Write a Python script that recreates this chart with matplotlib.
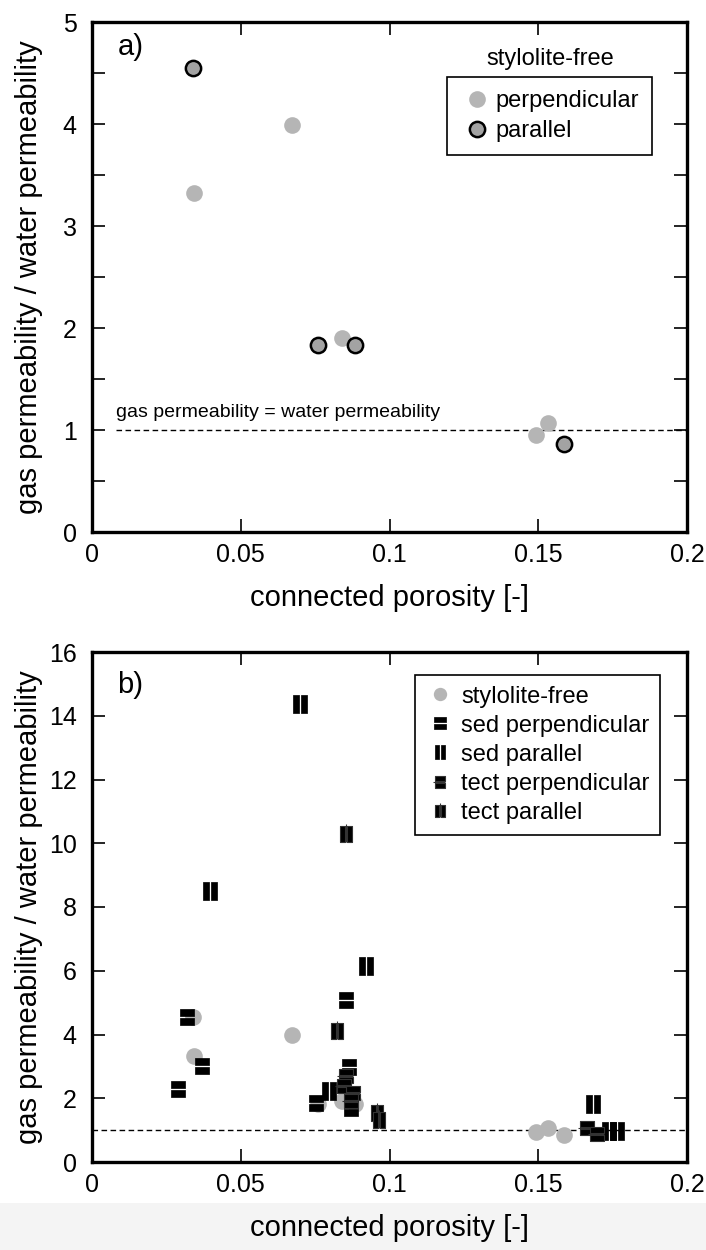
import matplotlib
matplotlib.use('Agg')
import matplotlib.pyplot as plt
from matplotlib.path import Path
from matplotlib.patches import Rectangle

plt.rcParams['font.family'] = ['Liberation Sans', 'DejaVu Sans']

# panel a: stylolite-free samples
free_perp_x = [0.0343, 0.0673, 0.0839, 0.1491, 0.1533]
free_perp_y = [3.32, 3.99, 1.90, 0.95, 1.07]
free_par_x = [0.0339, 0.0759, 0.0883, 0.1587]
free_par_y = [4.55, 1.83, 1.83, 0.86]

# panel b: stylolite-bearing samples
sed_perp_x = [0.0320, 0.0371, 0.0290, 0.0854, 0.0862, 0.0754, 0.0870]
sed_perp_y = [4.55, 3.00, 2.29, 5.08, 2.99, 1.86, 1.68]
tect_perp_x = [0.0855, 0.0848, 0.0878, 0.0872, 0.1662, 0.1696]
tect_perp_y = [2.71, 2.39, 2.17, 1.90, 1.07, 0.88]
sed_par_x = [0.0700, 0.0398, 0.0922, 0.0798, 0.1682, 0.1736, 0.1764]
sed_par_y = [14.38, 8.50, 6.15, 2.24, 1.81, 0.97, 0.97]
tect_par_x = [0.0853, 0.0825, 0.0957, 0.0965]
tect_par_y = [10.28, 4.12, 1.53, 1.32]


def rect(x0, y0, x1, y1):
    return Path([(x0, y0), (x1, y0), (x1, y1), (x0, y1), (x0, y0)],
                [Path.MOVETO, Path.LINETO, Path.LINETO, Path.LINETO, Path.CLOSEPOLY])


# two horizontal bars ("=") and two vertical bars ("II")
m_perp = Path.make_compound_path(rect(-0.45, 0.06, 0.45, 0.5), rect(-0.45, -0.5, 0.45, -0.06))
m_par = Path.make_compound_path(rect(-0.38, -0.5, -0.08, 0.5), rect(0.08, -0.5, 0.38, 0.5))
m_tperp = Path.make_compound_path(m_perp, Path([(-0.62, 0), (0.45, 0)], [Path.MOVETO, Path.LINETO]))
m_tpar = Path.make_compound_path(m_par, Path([(0, -0.5), (0, 0.62)], [Path.MOVETO, Path.LINETO]))

FS = 18
LFS = 21
gray = '#b5b5b5'

fig = plt.figure(figsize=(7.06, 12.5), dpi=100)
fig.patches.append(Rectangle((0, 0), 1, 0.038, transform=fig.transFigure,
                             facecolor='#f4f4f4', edgecolor='none', zorder=-1))

ax1 = fig.add_axes([0.1303, 0.5744, 0.843, 0.408])
ax2 = fig.add_axes([0.1303, 0.0704, 0.843, 0.408])

for ax in (ax1, ax2):
    for s in ax.spines.values():
        s.set_linewidth(2.4)
    ax.tick_params(direction='in', top=True, right=True, length=9.5, width=1.2,
                   labelsize=FS, pad=8)
    ax.tick_params(axis='y', pad=11)
    ax.tick_params(which='minor', direction='in', top=True, right=True, length=9.5, width=1.2)
    ax.set_xlim(0, 0.2)
    ax.set_xticks([0, 0.05, 0.1, 0.15, 0.2])
    ax.set_xticklabels(['0', '0.05', '0.1', '0.15', '0.2'])
    ax.set_xlabel('connected porosity [-]', fontsize=LFS, labelpad=12)
    ax.set_ylabel('gas permeability / water permeability', fontsize=LFS)
    ax.yaxis.set_label_coords(-0.083, 0.5)

# ---- panel a
ax1.set_ylim(0, 5)
ax1.set_yticks([0, 1, 2, 3, 4, 5])
ax1.set_yticks([0.5, 1.5, 2.5, 3.5, 4.5], minor=True)
ax1.plot([0.008, 0.2], [1, 1], 'k--', lw=1, dashes=(4, 2.5))
ax1.text(0.008, 1.13, 'gas permeability = water permeability', fontsize=14)
p1, = ax1.plot(free_perp_x, free_perp_y, 'o', ms=12, mfc=gray, mec='none',
               label='perpendicular')
p2, = ax1.plot(free_par_x, free_par_y, 'o', ms=11, mfc='#a3a3a3', mec='black',
               mew=1.8, label='parallel')
ax1.text(0.0085, 4.68, 'a)', fontsize=LFS)
ax1.text(0.77, 0.927, 'stylolite-free', transform=ax1.transAxes, ha='center',
         va='center', fontsize=17)
leg1 = ax1.legend(handles=[p1, p2], loc='upper right', bbox_to_anchor=(0.941, 0.892),
                  borderaxespad=0, fontsize=17, fancybox=False, edgecolor='black',
                  framealpha=1, handletextpad=0.1, handlelength=1.4, borderpad=0.55,
                  labelspacing=0.35)
leg1.get_frame().set_linewidth(1.2)

# ---- panel b
ax2.set_ylim(0, 16)
ax2.set_yticks(range(0, 17, 2))
ax2.axhline(1, color='black', ls='--', lw=1, dashes=(4, 2.5))
q0, = ax2.plot(free_perp_x + free_par_x, free_perp_y + free_par_y, 'o', ms=12,
               mfc=gray, mec='none', label='stylolite-free')
q1, = ax2.plot(sed_perp_x, sed_perp_y, ls='none', marker=m_perp, ms=11, mfc='black',
               mec='black', mew=0.5, label='sed perpendicular')
q2, = ax2.plot(sed_par_x, sed_par_y, ls='none', marker=m_par, ms=12.5, mfc='black',
               mec='black', mew=0.5, label='sed parallel')
q3, = ax2.plot(tect_perp_x, tect_perp_y, ls='none', marker=m_tperp, ms=13, mfc='black',
               mec='#333333', mew=0.8, label='tect perpendicular')
q4, = ax2.plot(tect_par_x, tect_par_y, ls='none', marker=m_tpar, ms=14, mfc='black',
               mec='#333333', mew=0.8, label='tect parallel')
ax2.text(0.0085, 14.7, 'b)', fontsize=LFS)
leg2 = ax2.legend(handles=[q0, q1, q2, q3, q4], loc='upper right',
                  bbox_to_anchor=(0.955, 0.955), borderaxespad=0, fontsize=17,
                  fancybox=False, edgecolor='black', framealpha=1, handletextpad=0.3,
                  handlelength=1.2, borderpad=0.45, labelspacing=0.3, markerscale=0.8)
leg2.get_frame().set_linewidth(1.2)

plt.savefig('out.png', dpi=100)
